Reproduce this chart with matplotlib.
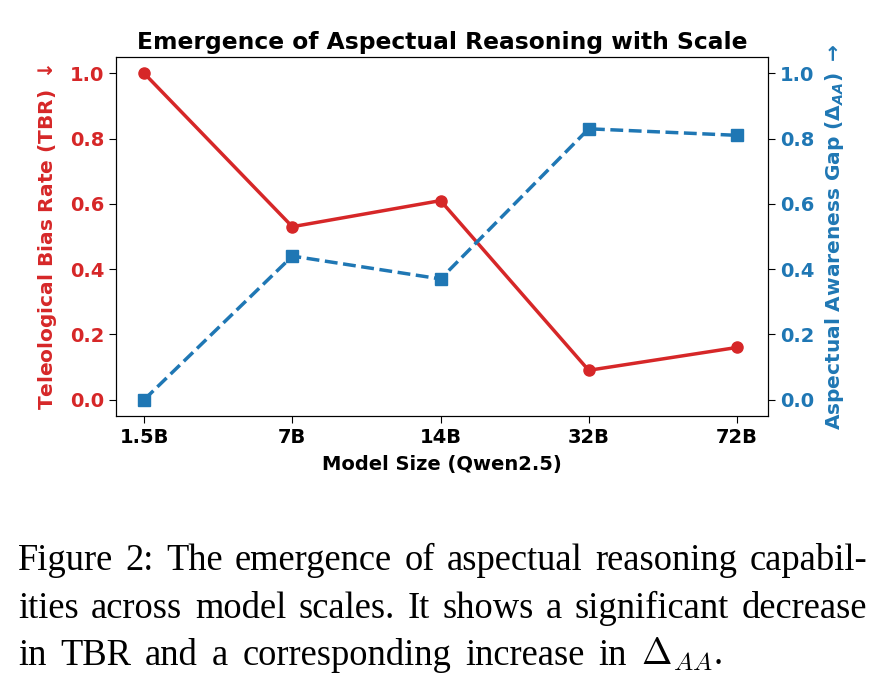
import matplotlib
matplotlib.use("Agg")
import matplotlib.pyplot as plt

# values
models = ["1.5B", "7B", "14B", "32B", "72B"]
tbr = [1.0, 0.53, 0.61, 0.09, 0.16]
aag = [0.0, 0.44, 0.37, 0.83, 0.81]

caption_lines = [
    "Figure 2: The emergence of aspectual reasoning capabil-",
    "ities across model scales. It shows a significant decrease",
    r"in TBR and a corresponding increase in $\Delta_{AA}$.",
]

red = "#d62728"
blue = "#1f77b4"

plt.rcParams["font.family"] = "DejaVu Sans"
plt.rcParams["font.weight"] = "bold"

W, H = 883, 691
fig = plt.figure(figsize=(W / 100, H / 100), dpi=100)
ax = fig.add_axes([116 / W, 1 - 416 / H, 652 / W, 359 / H])
x = list(range(len(models)))

ax.plot(x, tbr, color=red, marker="o", markersize=8, linewidth=2.5)
ax.set_ylim(-0.05, 1.05)
ax.set_xlim(-0.19, 4.21)
ax.set_xticks(x)
ax.set_xticklabels(models, fontsize=14, fontweight="bold")
ax.set_xlabel("Model Size (Qwen2.5)", fontsize=14, fontweight="bold", labelpad=6)
ax.set_ylabel(r"Teleological Bias Rate (TBR) $\downarrow$", color=red, fontsize=14.5,
              fontweight="bold", labelpad=8)
ax.tick_params(axis="y", labelcolor=red, labelsize=14, length=5)
ax.tick_params(axis="x", length=5)
ax.set_yticks([0.0, 0.2, 0.4, 0.6, 0.8, 1.0])
for t in ax.get_yticklabels():
    t.set_fontweight("bold")

ax2 = ax.twinx()
ax2.plot(x, aag, color=blue, marker="s", markersize=8, linewidth=2.5, linestyle="--")
ax2.set_ylim(-0.05, 1.05)
ax2.set_yticks([0.0, 0.2, 0.4, 0.6, 0.8, 1.0])
ax2.set_ylabel(r"Aspectual Awareness Gap ($\Delta_{AA}$) $\rightarrow$", color=blue,
               fontsize=14.5, fontweight="bold", labelpad=6, rotation=90)
ax2.tick_params(axis="y", labelcolor=blue, labelsize=14, length=5)
for t in ax2.get_yticklabels():
    t.set_fontweight("bold")

ax.set_title("Emergence of Aspectual Reasoning with Scale", fontsize=16.8,
             fontweight="bold", pad=6)

# caption laid out word by word; first two lines justified
renderer = fig.canvas.get_renderer()
x0 = 18 / W
line_ends = [867 / W, 867 / W, 722 / W]
baselines = [570, 618, 665]
cap_kw = dict(fontsize=26.3, family="Liberation Serif", fontweight="normal",
              va="baseline", ha="left", math_fontfamily="cm")
for i, line in enumerate(caption_lines):
    y = 1 - baselines[i] / H
    words = line.split(" ")
    texts = [fig.text(0, y, w, **cap_kw) for w in words]
    widths = [t.get_window_extent(renderer).width / W for t in texts]
    gap = (line_ends[i] - x0 - sum(widths)) / (len(words) - 1)
    pos = x0
    for t, w in zip(texts, widths):
        t.set_x(pos)
        pos += w + gap

fig.savefig("out.png", dpi=100)
